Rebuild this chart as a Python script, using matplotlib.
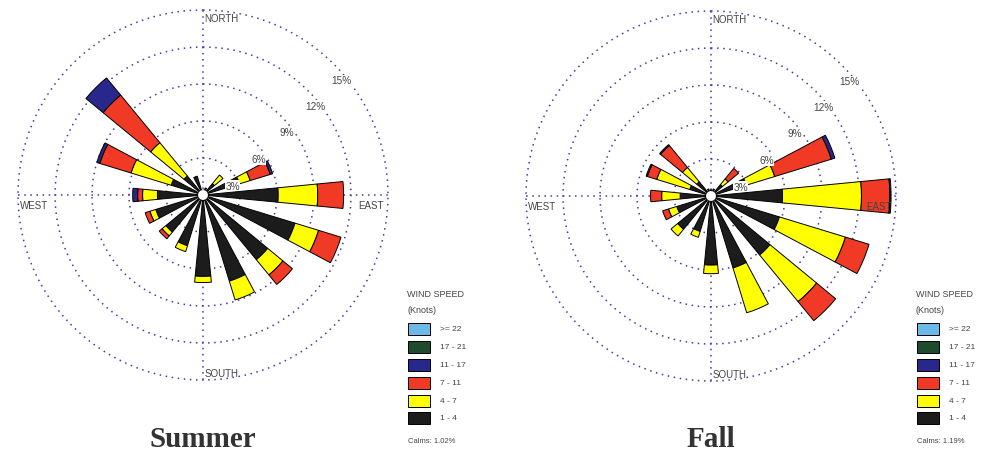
import numpy as np
import matplotlib
matplotlib.use("Agg")
import matplotlib.pyplot as plt

# wind directions, clockwise from north
directions = ['N', 'NNE', 'NE', 'ENE', 'E', 'ESE', 'SE', 'SSE',
              'S', 'SSW', 'SW', 'WSW', 'W', 'WNW', 'NW', 'NNW']
speed_bins = ['1 - 4', '4 - 7', '7 - 11', '11 - 17', '17 - 21', '>= 22']
bin_colors = ['#1c1c1c', '#ffff00', '#f03a26', '#28288c', '#1e4a2e', '#6cb8e6']

# percent of time per direction and speed class (knots)
summer_1_4 = [0.4, 0.6, 1.2, 3.1, 6.1, 7.8, 6.8, 7.3, 6.6, 4.3, 3.9, 4.0, 3.7, 2.7, 2.0, 1.6]
summer_4_7 = [0, 0, 0.9, 0.9, 3.2, 2.0, 1.6, 1.6, 0.5, 0.5, 0.4, 0.5, 1.2, 3.4, 3.5, 0]
summer_7_11 = [0, 0, 0, 1.7, 2.1, 1.9, 1.0, 0, 0, 0, 0.3, 0.4, 0.4, 2.65, 5.0, 0]
summer_11_17 = [0, 0, 0, 0.2, 0, 0, 0, 0, 0, 0, 0, 0, 0.4, 0.25, 1.8, 0]
summer_17_21 = [0] * 16
summer_22 = [0] * 16
summer_calm = 1.02

fall_1_4 = [0.5, 0.6, 1.2, 3.0, 5.8, 5.8, 6.2, 6.1, 5.6, 3.0, 3.5, 2.9, 2.5, 1.8, 1.5, 0.6]
fall_4_7 = [0, 0, 0.6, 2.4, 6.4, 5.6, 4.9, 3.8, 0.7, 0.5, 0.7, 0.7, 1.5, 2.8, 1.5, 0]
fall_7_11 = [0, 0, 1.1, 4.8, 2.3, 2.0, 2.0, 0, 0, 0, 0, 0.5, 0.9, 0.8, 2.3, 0]
fall_11_17 = [0, 0, 0, 0.3, 0.1, 0, 0, 0, 0, 0, 0, 0, 0, 0.1, 0.1, 0]
fall_17_21 = [0] * 16
fall_22 = [0] * 16
fall_calm = 1.19

rings = [3, 6, 9, 12, 15]
ring_labels = ['3%', '6%', '9%', '12%', '15%']

W, H = 982, 460
fig = plt.figure(figsize=(W / 100, H / 100), dpi=100)
font = 'Liberation Sans'
grid_col = '#3c3cb0'
txt_col = '#444444'


def draw_rose(cx, cy, layers, calm, title, legend_x):
    R = 185  # px radius of 15% ring
    ax = fig.add_axes([(cx - R) / W, (H - cy - R) / H, 2 * R / W, 2 * R / H], projection='polar')
    ax.set_theta_zero_location('N')
    ax.set_theta_direction(-1)
    ax.set_ylim(0, 15)
    ax.set_axis_off()

    # dotted rings and axis lines
    t = np.linspace(0, 2 * np.pi, 500)
    for r in rings:
        ax.plot(t, np.full_like(t, r), color=grid_col, lw=1.1, ls=(0, (1, 3)), clip_on=False, zorder=1)
    for a in [0, np.pi / 2, np.pi, 3 * np.pi / 2]:
        ax.plot([a, a], [0, 15], color=grid_col, lw=1.1, ls=(0, (1, 3)), zorder=1)

    theta = np.deg2rad(np.arange(len(directions)) * 22.5)
    bottom = np.zeros(len(directions))
    for vals, col in zip(layers, bin_colors):
        vals = np.array(vals, dtype=float)
        m = vals > 0
        ax.bar(theta[m], vals[m], width=np.deg2rad(11), bottom=bottom[m],
               color=col, edgecolor='black', linewidth=0.7, zorder=3)
        bottom += vals
    ax.bar(0, 0.4, width=2 * np.pi, bottom=0, color='white', zorder=4)

    # ring labels
    lab_ang = [73, 57, 53, 51.5, 50.4]
    lab_r = [2.5, 5.35, 8.5, 11.6, 14.6]
    for s, a, r in zip(ring_labels, lab_ang, lab_r):
        ax.text(np.deg2rad(a), r, s, fontsize=7.2, family=font, color=txt_col, ha='center', va='center',
                zorder=5, bbox=dict(boxstyle='square,pad=0.05', fc='white', ec='none'))

    kw = dict(fontsize=7, family=font, color=txt_col, textcoords='offset pixels', va='center',
              annotation_clip=False, zorder=5)
    ax.annotate('NORTH', xy=(0, 15), xytext=(1, -8), ha='left', **kw)
    ax.annotate('SOUTH', xy=(np.pi, 15), xytext=(2, 7), ha='left', **kw)
    ax.annotate('EAST', xy=(np.pi / 2, 15), xytext=(-4, -10), ha='right', **kw)
    ax.annotate('WEST', xy=(3 * np.pi / 2, 15), xytext=(2, -10), ha='left', **kw)

    fig.text(cx / W, 1 - 440 / H, title, fontsize=21, family='Liberation Serif', weight='bold',
             color='#333333', ha='center', va='center')

    # legend
    fig.text(legend_x / W, 1 - 295 / H, 'WIND SPEED', fontsize=6.5, family=font, color=txt_col, va='center')
    fig.text(legend_x / W, 1 - 311 / H, '(Knots)', fontsize=6.5, family=font, color=txt_col, va='center')
    box_y = [330, 348, 366, 384, 402, 419]
    for lab, col, y in zip(speed_bins[::-1], bin_colors[::-1], box_y):
        fig.add_artist(plt.Rectangle(((legend_x + 1) / W, 1 - (y + 6) / H), 22 / W, 12 / H,
                                     facecolor=col, edgecolor='black', lw=0.7, transform=fig.transFigure))
        fig.text((legend_x + 33) / W, 1 - y / H, lab, fontsize=6, family=font, color=txt_col, va='center')
    fig.text((legend_x + 1) / W, 1 - 442 / H, 'Calms: %.2f%%' % calm, fontsize=5.5, family=font,
             color=txt_col, va='center')


draw_rose(203, 196, [summer_1_4, summer_4_7, summer_7_11, summer_11_17, summer_17_21, summer_22],
          summer_calm, 'Summer', 407)
draw_rose(711, 197, [fall_1_4, fall_4_7, fall_7_11, fall_11_17, fall_17_21, fall_22],
          fall_calm, 'Fall', 916)

fig.savefig('out.png', dpi=100, facecolor='white')
